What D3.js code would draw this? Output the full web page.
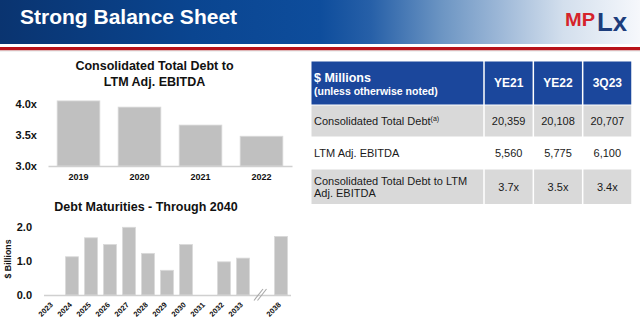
<!DOCTYPE html>
<html>
<head>
<meta charset="utf-8">
<script src="https://cdn.jsdelivr.net/npm/d3@7"></script>
<style>
  html, body { margin: 0; padding: 0; background: #fff; }
  svg { display: block; font-family: "Liberation Sans", Arial, sans-serif; }
</style>
</head>
<body>
<script>
// ---------- DATA ----------
const pageTitle = "Strong Balance Sheet";

const levTitle = ["Consolidated Total Debt to", "LTM Adj. EBITDA"];
const levYears = ["2019", "2020", "2021", "2022"];
const levValues = [4.05, 3.95, 3.66, 3.48];
const levTicks = [3.0, 3.5, 4.0];

const matTitle = "Debt Maturities - Through 2040";
const matYears = ["2023", "2024", "2025", "2026", "2027", "2028", "2029", "2030", "2031", "2032", "2033", "break", "2038"];
const matValues = [0, 1.13, 1.69, 1.49, 2.0, 1.23, 0.73, 1.49, 0, 0.98, 1.09, null, 1.73];
const matTicks = [0, 1, 2];
const matYLabel = "$ Billions";

const tableHeadLines = ["$ Millions", "(unless otherwise noted)"];
const tableCols = ["YE21", "YE22", "3Q23"];
const tableRowLabels = [["Consolidated Total Debt"], ["LTM Adj. EBITDA"], ["Consolidated Total Debt to LTM", "Adj. EBITDA"]];
const tableRowNotes = ["(a)", "", ""];
const tableValues = [
  ["20,359", "20,108", "20,707"],
  ["5,560", "5,775", "6,100"],
  ["3.7x", "3.5x", "3.4x"]
];

// ---------- SVG ----------
const W = 640, H = 324;
const svg = d3.select("body").append("svg").attr("width", W).attr("height", H);
const defs = svg.append("defs");

// Header gradient
const grad = defs.append("linearGradient").attr("id", "hdr").attr("x1", "0").attr("x2", "1").attr("y1", "0").attr("y2", "0");
[[0, "#0a3470"], [0.3, "#0a4590"], [0.5, "#0e4d9c"], [0.58, "#2760a8"], [0.69, "#6c95c3"],
 [0.78, "#9cb7d7"], [0.88, "#d3dfed"], [1, "#f6f8fc"]].forEach(([o, c]) =>
  grad.append("stop").attr("offset", o).attr("stop-color", c));

svg.append("rect").attr("x", 0).attr("y", 0).attr("width", W).attr("height", 44).attr("fill", "url(#hdr)");
svg.append("rect").attr("x", 0).attr("y", 47).attr("width", W).attr("height", 3.5).attr("fill", "#b81219");
svg.append("rect").attr("x", 0).attr("y", 50.5).attr("width", W).attr("height", 1).attr("fill", "#e3e3e3");

svg.append("text").attr("x", 20).attr("y", 23.5)
  .attr("font-size", 21).attr("font-weight", "bold").attr("fill", "#fff")
  .text(pageTitle);

// Logo
const logo = svg.append("g");
logo.append("text").attr("x", 565).attr("y", 25.5).attr("font-size", 18).attr("font-weight", "bold")
  .attr("fill", "#d6232b").attr("textLength", 30).attr("lengthAdjust", "spacingAndGlyphs").text("MP");
logo.append("text").attr("x", 597).attr("y", 31).attr("font-size", 25).attr("font-weight", "bold")
  .attr("fill", "#1d3d7c").attr("textLength", 30).attr("lengthAdjust", "spacingAndGlyphs").text("Lx");

const barFill = "#c0c0c0", barStroke = "#d9d9d9", axisCol = "#d0d0d0", txt = "#111";

// ---------- Leverage chart ----------
const lev = svg.append("g");
lev.selectAll("text.title").data(levTitle).join("text")
  .attr("class", "title")
  .attr("x", 154.5).attr("y", (d, i) => 69.5 + i * 16.5)
  .attr("text-anchor", "middle").attr("font-size", 12.5).attr("font-weight", "bold").attr("fill", txt)
  .text(d => d);

const lx = d3.scaleBand().domain(levYears).range([48, 292]).paddingInner(0.3).paddingOuter(0.15);
const ly = d3.scaleLinear().domain([3, 4]).range([166, 104]);

lev.selectAll("rect.bar").data(levYears).join("rect")
  .attr("class", "bar")
  .attr("x", d => lx(d)).attr("width", lx.bandwidth())
  .attr("y", (d, i) => ly(levValues[i])).attr("height", (d, i) => ly(3) - ly(levValues[i]))
  .attr("fill", barFill).attr("stroke", barStroke).attr("stroke-width", 0.8);

const lxAxis = lev.append("g").attr("transform", "translate(0,166)")
  .call(d3.axisBottom(lx).tickSize(0).tickSizeOuter(0).tickPadding(8));
lxAxis.select(".domain").attr("stroke", axisCol).attr("stroke-width", 1.5);
lxAxis.selectAll("text").attr("font-size", 9).attr("font-weight", "bold").attr("fill", txt)
  .attr("font-family", "Liberation Sans, Arial, sans-serif");

const lyAxis = lev.append("g").attr("transform", "translate(48,0)")
  .call(d3.axisLeft(ly).tickValues(levTicks).tickSize(0).tickPadding(11).tickFormat(d => d.toFixed(1) + "x"));
lyAxis.select(".domain").remove();
lyAxis.selectAll("text").attr("font-size", 11).attr("font-weight", "bold").attr("fill", txt)
  .attr("font-family", "Liberation Sans, Arial, sans-serif");

// ---------- Maturities chart ----------
const mat = svg.append("g");
mat.append("text").attr("x", 146).attr("y", 211)
  .attr("text-anchor", "middle").attr("font-size", 12.5).attr("font-weight", "bold").attr("fill", txt)
  .text(matTitle);

const mx = d3.scaleBand().domain(matYears).range([43.5, 290.5]).paddingInner(0.32).paddingOuter(0.16);
const my = d3.scaleLinear().domain([0, 2]).range([295, 227.3]);

const matData = matYears.map((y, i) => ({ y, v: matValues[i] })).filter(d => d.v);
mat.selectAll("rect.bar").data(matData).join("rect")
  .attr("class", "bar")
  .attr("x", d => mx(d.y)).attr("width", mx.bandwidth())
  .attr("y", d => my(d.v)).attr("height", d => my(0) - my(d.v))
  .attr("fill", barFill).attr("stroke", barStroke).attr("stroke-width", 0.8);

const mxAxis = mat.append("g").attr("transform", "translate(0,295)")
  .call(d3.axisBottom(mx).tickSize(0).tickSizeOuter(0).tickFormat(d => d === "break" ? "" : d));
mxAxis.select(".domain").attr("stroke", axisCol).attr("stroke-width", 1.5);
mxAxis.selectAll(".tick text")
  .attr("y", 0).attr("dy", "0.35em")
  .attr("transform", "translate(-1.5,8.5) rotate(-45)")
  .attr("text-anchor", "end")
  .attr("font-size", 7.5).attr("font-weight", "bold").attr("fill", txt)
  .attr("font-family", "Liberation Sans, Arial, sans-serif");

const myAxis = mat.append("g").attr("transform", "translate(43.5,0)")
  .call(d3.axisLeft(my).tickValues(matTicks).tickSize(0).tickPadding(11.5).tickFormat(d3.format(".1f")));
myAxis.select(".domain").remove();
myAxis.selectAll("text").attr("font-size", 11).attr("font-weight", "bold").attr("fill", txt)
  .attr("font-family", "Liberation Sans, Arial, sans-serif");

mat.append("text").attr("transform", "translate(10.5,259) rotate(-90)")
  .attr("text-anchor", "middle").attr("font-size", 8.8).attr("font-weight", "bold").attr("fill", txt)
  .text(matYLabel);

// axis break marks
const bc = mx("break") + mx.bandwidth() / 2;
[-3.5, 0].forEach(off => {
  mat.append("line")
    .attr("x1", bc - 6 + off + 1.5).attr("y1", 300.5)
    .attr("x2", bc + 3 + off + 1.5).attr("y2", 289)
    .attr("stroke", "#a8a8a8").attr("stroke-width", 1.1);
});

// ---------- Table ----------
const tab = svg.append("g");
const tx0 = 311.5, labelRight = 484, tx1 = 632;
const rowTops = [61.5, 105.5, 137, 169.5];
const rowBottoms = [104.5, 136.5, 169, 204];
const cx = d3.scaleBand().domain(tableCols).range([labelRight, tx1]);
const gap = 1.5;

// header row
tab.append("rect").attr("x", tx0).attr("y", rowTops[0]).attr("width", labelRight - tx0 - gap / 2)
  .attr("height", rowBottoms[0] - rowTops[0]).attr("fill", "#1b479c");
tab.selectAll("rect.hcell").data(tableCols).join("rect").attr("class", "hcell")
  .attr("x", d => cx(d) + gap / 2).attr("y", rowTops[0]).attr("width", cx.bandwidth() - gap)
  .attr("height", rowBottoms[0] - rowTops[0]).attr("fill", "#1b479c");

tab.append("text").attr("x", 314).attr("y", 81.5).attr("font-size", 12.5).attr("font-weight", "bold")
  .attr("fill", "#fff").text(tableHeadLines[0]);
tab.append("text").attr("x", 314).attr("y", 94.5).attr("font-size", 10.5).attr("font-weight", "bold")
  .attr("fill", "#fff").text(tableHeadLines[1]);
tab.selectAll("text.ch").data(tableCols).join("text").attr("class", "ch")
  .attr("x", d => cx(d) + cx.bandwidth() / 2).attr("y", 86.5)
  .attr("text-anchor", "middle").attr("font-size", 12).attr("font-weight", "bold").attr("fill", "#fff")
  .text(d => d);

// body rows
tableRowLabels.forEach((lab, r) => {
  const top = rowTops[r + 1], bot = rowBottoms[r + 1];
  const mid = (top + bot) / 2;
  const fill = r % 2 === 0 ? "#d9d9d9" : "#ffffff";
  tab.append("rect").attr("x", tx0).attr("y", top).attr("width", labelRight - tx0 - gap / 2)
    .attr("height", bot - top).attr("fill", fill);
  tab.selectAll("rect.c" + r).data(tableCols).join("rect").attr("class", "c" + r)
    .attr("x", d => cx(d) + gap / 2).attr("y", top).attr("width", cx.bandwidth() - gap)
    .attr("height", bot - top).attr("fill", fill);

  const lineH = 11.6;
  const startY = mid + 4 - (lab.length - 1) * lineH / 2;
  lab.forEach((ln, k) => {
    const t = tab.append("text").attr("x", 314).attr("y", startY + k * lineH)
      .attr("font-size", 11).attr("fill", "#1a1a1a").text(ln);
    if (k === lab.length - 1 && tableRowNotes[r]) {
      t.append("tspan").attr("font-size", 7).attr("dy", -4).text(tableRowNotes[r]);
    }
  });
  tab.selectAll("text.v" + r).data(tableCols).join("text").attr("class", "v" + r)
    .attr("x", d => cx(d) + cx.bandwidth() / 2).attr("y", mid + 4)
    .attr("text-anchor", "middle").attr("font-size", 11).attr("fill", "#1a1a1a")
    .text((d, i) => tableValues[r][i]);
});
</script>
</body>
</html>
